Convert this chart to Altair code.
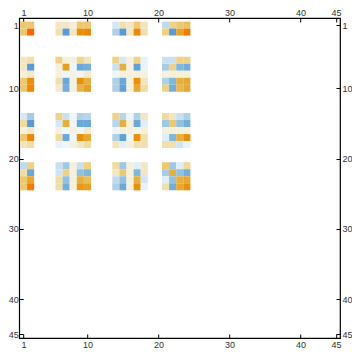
import altair as alt
import pandas as pd

# matrix rows / columns that carry non-zero entries (block structure)
row_ids = [1, 2, 6, 7, 8, 9, 10, 14, 15, 16, 17, 18, 21, 22, 23, 24]
col_ids = [1, 2, 6, 7, 8, 9, 10, 14, 15, 16, 17, 18, 21, 22, 23, 24]
tick_values = [1, 10, 20, 30, 40, 45]

r01 = [0.36, 0.36, 0.10, 0.10, 0.02, 0.36, 0.36, -0.16, 0.16, 0.10, 0.34, 0.12, -0.27, 0.28, 0.36, 0.40]
r02 = [0.36, 1.00, 0.16, -0.90, 0.10, 0.70, 0.76, -0.36, -0.90, 0.10, 0.76, 0.16, 0.28, -0.90, 0.58, 0.85]
r06 = [0.10, 0.16, 0.28, 0.02, 0.01, 0.26, 0.12, 0.28, -0.16, 0.02, 0.28, -0.07, -0.23, -0.23, 0.28, 0.28]
r07 = [0.10, -0.90, 0.02, 0.60, -0.04, -0.78, -0.72, -0.23, 0.50, 0.01, -0.85, -0.07, -0.40, 0.28, -0.62, -0.72]
r08 = [0.02, 0.08, 0.02, -0.04, 0.01, -0.04, 0.06, -0.04, 0.02, 0.02, 0.02, 0.01, 0.02, 0.02, 0.02, 0.02]
r09 = [0.36, 0.70, 0.16, -0.78, 0.01, 0.70, 0.50, -0.36, -0.78, 0.02, 0.70, 0.12, -0.36, -0.62, 0.50, 0.55]
r10 = [0.36, 0.76, 0.06, -0.72, 0.01, 0.48, 0.60, -0.36, -0.85, 0.02, 0.55, 0.20, 0.28, -0.72, 0.45, 0.55]
r14 = [-0.16, -0.40, 0.28, -0.23, -0.04, -0.36, -0.32, 0.28, -0.32, -0.04, -0.36, 0.10, 0.20, 0.10, -0.23, -0.36]
r15 = [0.20, -0.90, -0.16, 0.50, -0.04, -0.78, -0.78, -0.32, 0.50, 0.02, -0.78, -0.11, -0.45, 0.36, -0.52, -0.72]
r16 = [0.02, 0.08, 0.02, -0.04, 0.02, -0.04, 0.06, -0.03, 0.02, 0.02, 0.00, 0.02, 0.02, 0.02, 0.02, 0.02]
r17 = [0.36, 0.76, 0.20, -0.78, -0.04, 0.70, 0.55, -0.36, -0.85, -0.04, 0.70, 0.16, -0.11, -0.62, 0.50, 0.70]
r18 = [0.12, 0.18, -0.07, -0.04, 0.02, 0.10, 0.20, 0.12, -0.11, 0.02, 0.16, 0.16, 0.16, 0.16, -0.19, -0.07]
r21 = [-0.27, 0.28, -0.23, -0.45, 0.02, -0.23, 0.28, 0.20, -0.45, 0.02, -0.11, 0.10, 0.36, -0.45, -0.11, 0.22]
r22 = [0.18, -0.78, -0.19, 0.28, 0.02, -0.52, -0.62, 0.10, 0.36, 0.02, -0.62, 0.10, -0.40, 0.50, -0.52, -0.72]
r23 = [0.36, 0.55, 0.18, -0.52, 0.02, 0.50, 0.42, -0.27, -0.52, 0.02, 0.50, -0.19, -0.11, -0.52, 0.50, 0.55]
r24 = [0.36, 0.85, 0.18, -0.72, 0.02, 0.65, 0.60, -0.36, -0.78, 0.02, 0.70, -0.07, 0.16, -0.72, 0.55, 0.70]
rows_values = [r01, r02, r06, r07, r08, r09, r10, r14, r15, r16, r17, r18, r21, r22, r23, r24]

records = []
for r, vals in zip(row_ids, rows_values):
    for c, v in zip(col_ids, vals):
        records.append({"row": r, "col": c, "value": v})
df = pd.DataFrame(records)

color_domain = [-0.9, -0.62, -0.36, -0.16, -0.04, 0.02, 0.1, 0.2, 0.36, 0.5, 0.7, 1.0]
color_range = ["#5b9bd5", "#80b8dc", "#b0d0e6", "#d6e8f4", "#eef6fa", "#f4f0dc",
               "#f2e6c4", "#f0dca0", "#ecc870", "#e6b040", "#e8900a", "#ff6600"]

xscale = alt.Scale(domain=[0.39, 45.57], nice=False, zero=False)
yscale = alt.Scale(domain=[45.5, 0.0], nice=False, zero=False)

def ax(orient, pad):
    return alt.Axis(orient=orient, values=tick_values, domain=False, grid=False,
                    ticks=True, tickSize=4, offset=-4, tickColor="black", tickWidth=1,
                    labelPadding=pad, labelFont="Liberation Sans", labelFontSize=9,
                    labelFlush=False, labelOverlap=False,
                    labelColor="#333333", title=None)

base = alt.Chart(df).transform_calculate(
    x0="datum.col - 0.5", x1="datum.col + 0.5",
    y0="datum.row - 0.5", y1="datum.row + 0.5",
)

cells = base.mark_rect(strokeWidth=0).encode(
    x=alt.X("x0:Q", scale=xscale, axis=ax("bottom", 2)),
    x2="x1:Q",
    y=alt.Y("y0:Q", scale=yscale, axis=ax("left", 1)),
    y2="y1:Q",
    color=alt.Color("value:Q", scale=alt.Scale(domain=color_domain, range=color_range,
                                               interpolate="rgb"), legend=None),
)

ghost = base.mark_rect(opacity=0).encode(
    x=alt.X("x0:Q", scale=xscale, axis=ax("top", 1)),
    x2="x1:Q",
    y=alt.Y("y0:Q", scale=yscale, axis=ax("right", 2)),
    y2="y1:Q",
)

chart = alt.layer(cells, ghost).resolve_axis(x="independent", y="independent").properties(
    width=320.8, height=320,
    autosize=alt.AutoSizeParams(type="none"),
    padding={"left": 11.2, "top": 10, "right": 12, "bottom": 12},
).configure_view(stroke="black", strokeWidth=1.2)

chart.save("out.html", embed_options={"renderer": "svg", "actions": False})
